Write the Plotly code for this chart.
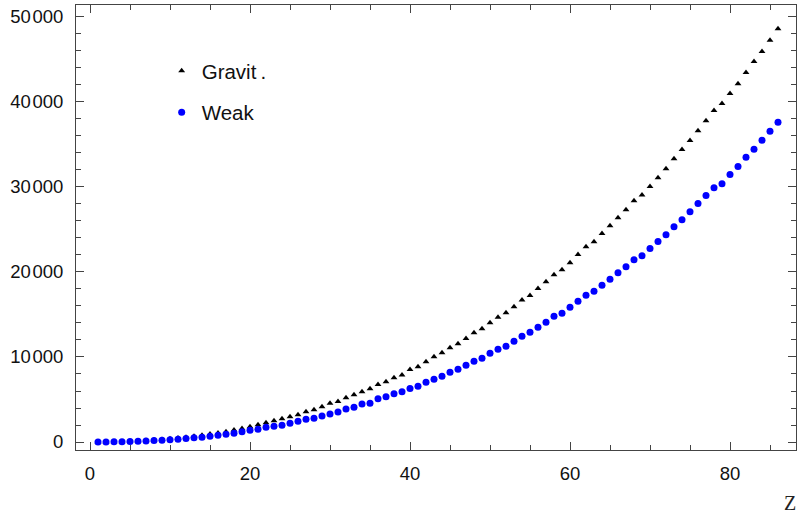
import plotly.graph_objects as go

Z = list(range(1, 87))

gravit = [1, 10, 22, 45, 80, 120, 165, 225, 300, 380,
          470, 570, 680, 800, 940, 1060, 1200, 1400, 1600, 1800,
          2040, 2270, 2510, 2740, 2980, 3210, 3570, 3800, 4160, 4550,
          4750, 5220, 5570, 5920, 6270, 6750, 7100, 7570, 7880, 8530,
          8860, 9450, 10040, 10510, 11090, 11570, 12160, 12860, 13330, 14040,
          14670, 15210, 15920, 16700, 17230, 18060, 18860, 19680, 20270, 21090,
          22040, 22980, 23560, 24510, 25450, 26390, 27330, 28390, 29040, 30040,
          31090, 32150, 33330, 34390, 35450, 36620, 37800, 38980, 39800, 40980,
          42150, 43450, 44740, 45920, 47260, 48620]

weak = [2, 8, 18, 35, 55, 80, 120, 170, 210, 280,
        320, 400, 490, 550, 670, 790, 900, 1020, 1200, 1380,
        1500, 1730, 1840, 1960, 2200, 2430, 2670, 2780, 3060, 3290,
        3530, 3880, 4080, 4470, 4550, 5090, 5330, 5680, 5920, 6290,
        6550, 7020, 7380, 7730, 8200, 8550, 9020, 9490, 9840, 10430,
        10900, 11260, 11850, 12430, 12900, 13490, 14080, 14790, 15140, 15840,
        16550, 17250, 17730, 18430, 19140, 19920, 20620, 21450, 21920, 22770,
        23590, 24390, 25330, 26150, 27090, 28040, 28980, 29920, 30390, 31450,
        32390, 33490, 34430, 35490, 36550, 37610]

y_tickvals = [0, 10000, 20000, 30000, 40000, 50000]
y_ticktext = ["0", "10\u200a000", "20\u200a000", "30\u200a000", "40\u200a000", "50\u200a000"]
x_tickvals = [0, 20, 40, 60, 80]
x_ticktext = ["0", "20", "40", "60", "80"]

font_family = "Liberation Sans, Arial, sans-serif"
frame_color = "#444444"

fig = go.Figure()
fig.add_trace(go.Scatter(
    x=Z, y=gravit, mode="markers", name="Gravit\u2009.", legendgroup="g",
    marker=dict(symbol="triangle-up", size=6, color="black", line=dict(width=0)),
))
fig.add_trace(go.Scatter(
    x=Z, y=weak, mode="markers", name="Weak", legendgroup="w",
    marker=dict(symbol="circle", size=7, color="rgb(0,0,255)", line=dict(width=0)),
))

axis_common = dict(
    showgrid=False, zeroline=False, showline=True, linecolor=frame_color, linewidth=1,
    mirror="allticks", ticks="inside", ticklen=8, tickwidth=1, tickcolor=frame_color,
    tickfont=dict(family=font_family, size=18.5, color="#111111"),
    automargin=False,
)

fig.update_xaxes(
    range=[-1.75, 88.25], tickmode="array", tickvals=x_tickvals, ticktext=x_ticktext,
    minor=dict(dtick=5, tick0=0, ticks="inside", ticklen=5, tickcolor=frame_color, showgrid=False),
    ticklabelstandoff=7,
    **axis_common,
)
fig.update_yaxes(
    range=[-940, 51400], tickmode="array", tickvals=y_tickvals, ticktext=y_ticktext,
    minor=dict(dtick=2000, tick0=0, ticks="inside", ticklen=5, tickcolor=frame_color, showgrid=False),
    ticklabelstandoff=8,
    **axis_common,
)

fig.add_annotation(
    text="Z", xref="paper", yref="paper", x=0.9917, y=-0.119, xanchor="center", yanchor="middle",
    showarrow=False, font=dict(family="Liberation Serif, Times New Roman, serif", size=20, color="#222222"),
)

fig.update_layout(
    width=797, height=516,
    margin=dict(l=76, r=1, t=5, b=66),
    paper_bgcolor="white", plot_bgcolor="white",
    showlegend=True,
    legend=dict(
        x=0.119, y=0.897, xanchor="left", yanchor="top",
        bgcolor="rgba(0,0,0,0)", borderwidth=0,
        font=dict(family=font_family, size=20.5, color="#111111"),
        tracegroupgap=12, itemwidth=30,
    ),
)

fig.write_html(
    "out.html",
    config={"displayModeBar": False},
    post_script="document.body.style.margin='0px';document.body.style.overflow='hidden';",
)
